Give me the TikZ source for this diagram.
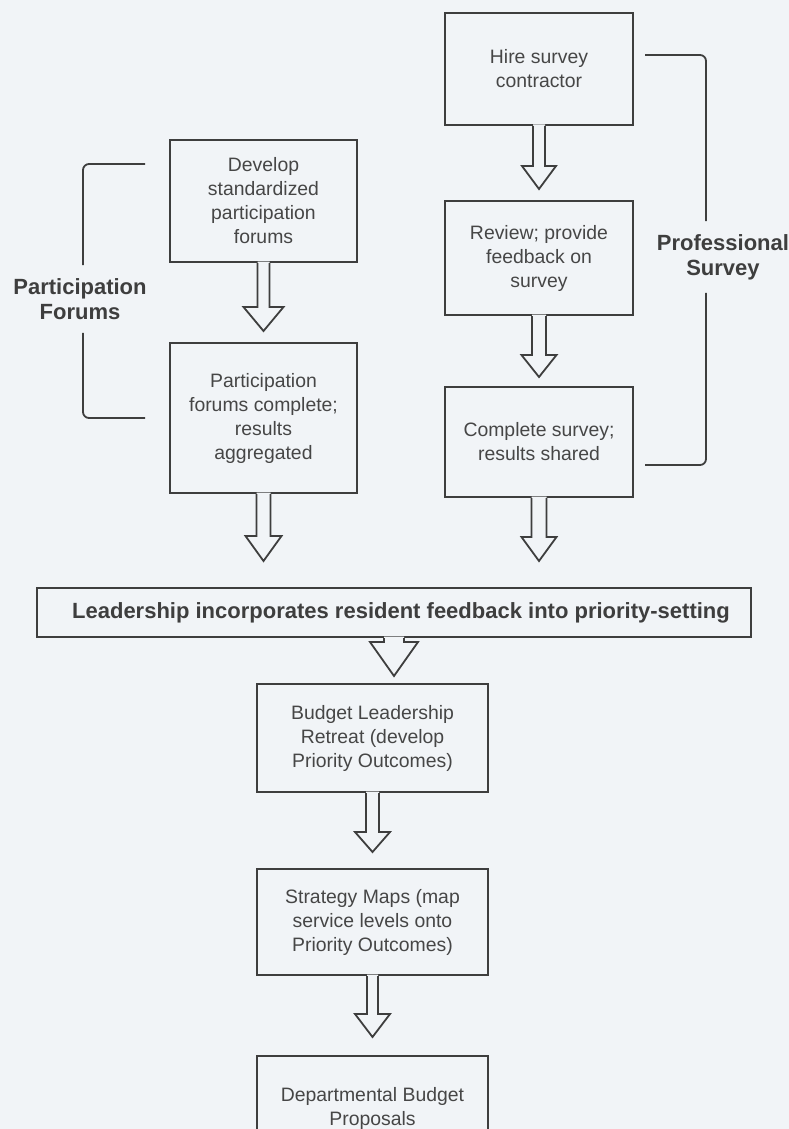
\documentclass[tikz,border=0pt]{standalone}
\usepackage{fontspec}
\setmainfont{Liberation Sans}
\usetikzlibrary{calc}
\definecolor{paper}{RGB}{241,244,247}
\definecolor{ink}{RGB}{62,62,62}
\definecolor{inktext}{RGB}{70,70,70}
\newcommand{\fatarrow}[5]{%
\fill[paper] let \p1=(#1), \p2=(#2) in (\x1-#3,\y1+1.5pt) -- (\x1-#3,\y2+#5) -- (\x1-#4,\y2+#5) -- (\x1,\y2) -- (\x1+#4,\y2+#5) -- (\x1+#3,\y2+#5) -- (\x1+#3,\y1+1.5pt) -- cycle;
\draw[ink,line width=1.8pt] let \p1=(#1), \p2=(#2) in (\x1-#3,\y1) -- (\x1-#3,\y2+#5) -- (\x1-#4,\y2+#5) -- (\x1,\y2) -- (\x1+#4,\y2+#5) -- (\x1+#3,\y2+#5) -- (\x1+#3,\y1);}
\begin{document}
\begin{tikzpicture}[x=1pt,y=-1pt,
  box/.style={draw=ink,line width=2pt,fill=paper,text=inktext,align=center,inner sep=0pt,font=\fontsize{19.4}{24}\selectfont},
  side/.style={text=ink,align=center,inner xsep=0pt,inner ysep=13pt,font=\bfseries\fontsize{22}{25}\selectfont},
  bracket/.style={draw=ink,line width=1.8pt,rounded corners=6pt}]
\fill[paper] (0,0) rectangle (789,1129);
\clip (0,0) rectangle (789,1129);
\node[box,minimum width=188pt,minimum height=112pt] (hire) at (539,69) {Hire survey\\contractor};
\node[box,minimum width=188pt,minimum height=114pt] (review) at (539,258) {Review; provide\\feedback on\\survey};
\node[box,minimum width=188pt,minimum height=110pt] (survey) at (539,442) {Complete survey;\\results shared};
\node[box,minimum width=187pt,minimum height=122pt] (develop) at (263.5,201) {Develop\\standardized\\participation\\forums};
\node[box,minimum width=187pt,minimum height=150pt] (forums) at (263.5,418) {Participation\\forums complete;\\results\\aggregated};
\node[box,minimum width=714pt,minimum height=49pt,text=ink,font=\bfseries\fontsize{22}{25}\selectfont] (leader) at (394,612.5) {\hspace*{14pt}Leadership incorporates resident feedback into priority-setting};
\node[box,minimum width=231pt,minimum height=108pt] (retreat) at (372.5,738) {Budget Leadership\\Retreat (develop\\Priority Outcomes)};
\node[box,minimum width=231pt,minimum height=106pt] (maps) at (372.5,922) {Strategy Maps (map\\service levels onto\\Priority Outcomes)};
\node[box,minimum width=231pt,minimum height=104pt] (proposals) at (372.5,1108) {Departmental Budget\\Proposals};
\fatarrow{hire.south}{$(review.north)+(0,-11)$}{6pt}{17pt}{23pt}
\fatarrow{review.south}{$(survey.north)+(0,-9)$}{7pt}{17.5pt}{22pt}
\fatarrow{develop.south}{$(forums.north)+(0,-11)$}{6pt}{20pt}{24pt}
\fatarrow{forums.south}{$(leader.north)+(0,-26)$}{7pt}{18pt}{25pt}
\fatarrow{survey.south}{$(leader.north)+(0,-26)$}{7.5pt}{17.5pt}{24pt}
\fatarrow{leader.south}{$(retreat.north)+(0,-7)$}{10pt}{24pt}{34pt}
\fatarrow{retreat.south}{$(maps.north)+(0,-16)$}{6.5pt}{17.5pt}{20pt}
\fatarrow{maps.south}{$(proposals.north)+(0,-18)$}{5.5pt}{17.5pt}{23pt}
\node[side] (pflabel) at (80,299) {Participation\\Forums};
\node[side] (pslabel) at (723,257) {Professional\\Survey};
\coordinate (pftop) at (145,164);
\coordinate (pfbot) at (145,418);
\coordinate (pstop) at (645,55);
\coordinate (psbot) at (645,465);
\draw[bracket] ([xshift=3pt]pflabel.north) |- (pftop);
\draw[bracket] ([xshift=3pt]pflabel.south) |- (pfbot);
\draw[bracket] ([xshift=-17pt]pslabel.north) |- (pstop);
\draw[bracket] ([xshift=-17pt]pslabel.south) |- (psbot);
\end{tikzpicture}
\end{document}
